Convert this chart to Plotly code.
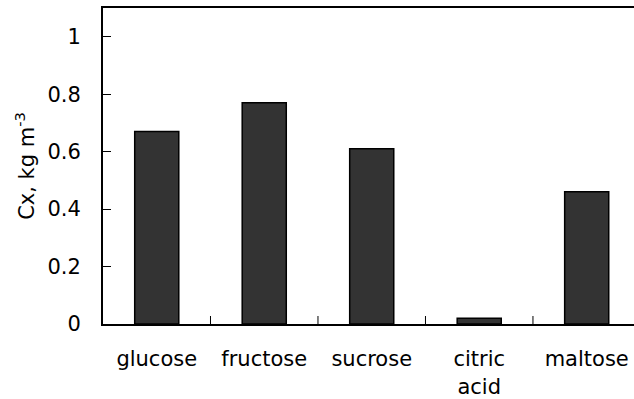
import plotly.graph_objects as go

# Biomass concentration reached on each carbon source
substrates = ["glucose", "fructose", "sucrose", "citric<br>acid", "maltose"]
cx_values = [0.67, 0.77, 0.61, 0.02, 0.46]
y_ticks = [0, 0.2, 0.4, 0.6, 0.8, 1]
y_tick_text = ["0", "0.2", "0.4", "0.6", "0.8", "1"]

font_family = "DejaVu Sans, Verdana, sans-serif"
font_size = 21

fig = go.Figure(
    go.Bar(
        x=list(range(len(substrates))),
        y=cx_values,
        width=0.41,
        marker=dict(color="#333333", line=dict(color="#000000", width=1.5)),
    )
)

fig.update_layout(
    width=634,
    height=399,
    margin=dict(l=103, r=0, t=8, b=75),
    paper_bgcolor="white",
    plot_bgcolor="white",
    showlegend=False,
    font=dict(family=font_family, size=font_size, color="#000000"),
)

fig.update_xaxes(
    range=[-0.5, 4.44],
    tickmode="array",
    tickvals=list(range(len(substrates))),
    ticktext=substrates,
    showgrid=False,
    zeroline=False,
    showline=True,
    linecolor="#000000",
    linewidth=2,
    mirror=True,
    ticks="",
    ticklabelstandoff=15,
    tickfont=dict(family=font_family, size=font_size, color="#000000"),
)

# Divider ticks between categories on the bottom axis
for b in [0.5, 1.5, 2.5, 3.5]:
    fig.add_shape(
        type="line", xref="x", yref="paper",
        x0=b, x1=b, y0=0, y1=8 / 316,
        line=dict(color="#000000", width=1),
    )

fig.update_yaxes(
    range=[0, 1.1],
    tickmode="array",
    tickvals=y_ticks,
    ticktext=y_tick_text,
    showgrid=False,
    zeroline=False,
    showline=True,
    linecolor="#000000",
    linewidth=2,
    ticks="inside",
    ticklen=8,
    tickwidth=1,
    tickcolor="#000000",
    ticklabelstandoff=16,
    tickfont=dict(family=font_family, size=font_size, color="#000000"),
    title=dict(
        text="Cx, kg m<sup>-3</sup>",
        font=dict(family=font_family, size=font_size, color="#000000"),
        standoff=7,
    ),
)

fig.write_html("out.html")
